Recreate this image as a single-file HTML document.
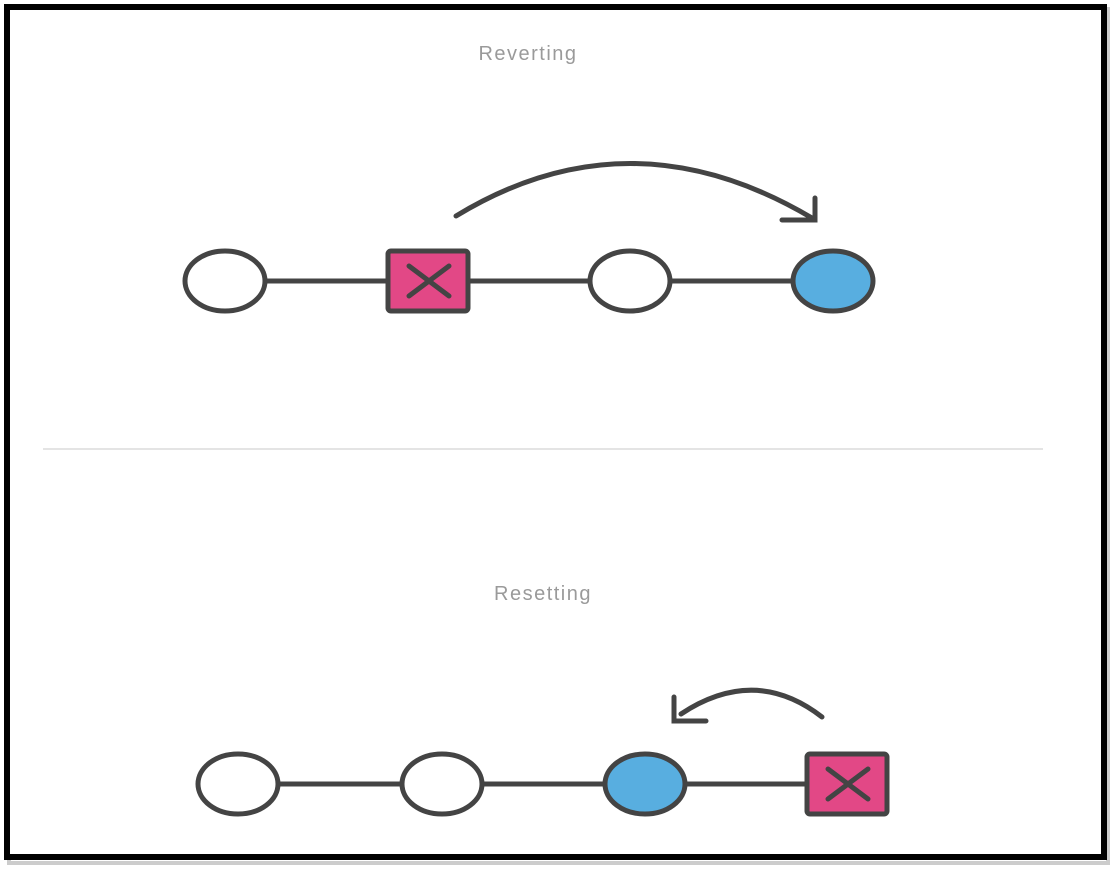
<!DOCTYPE html>
<html><head><meta charset="utf-8"><style>
html,body{margin:0;padding:0;background:#fff;width:1118px;height:872px;overflow:hidden}
</style></head><body>
<svg width="1118" height="872" viewBox="0 0 1118 872" xmlns="http://www.w3.org/2000/svg">
<rect x="9" y="9" width="1099" height="854" fill="none" stroke="#ccc" stroke-width="4"/>
<rect x="7" y="7" width="1097" height="850" fill="#fff" stroke="#000" stroke-width="6"/>
<text x="528" y="60" text-anchor="middle" font-family="Liberation Sans, sans-serif" font-size="20" letter-spacing="1.5" fill="#9a9a9a">Reverting</text>
<text x="543" y="600" text-anchor="middle" font-family="Liberation Sans, sans-serif" font-size="20" letter-spacing="1.5" fill="#9a9a9a">Resetting</text>
<line x1="43" y1="449" x2="1043" y2="449" stroke="#e4e4e4" stroke-width="2"/>
<g stroke="#444" stroke-width="5" fill="none" stroke-linecap="round">
<line x1="265" y1="281" x2="792" y2="281"/>
<path d="M456,216 Q630,110 812,218"/>
<path d="M815,198 L815,220 L782,220" stroke-linejoin="miter"/>
<line x1="278" y1="784" x2="806" y2="784"/>
<path d="M822,717 Q755,665 681,714"/>
<path d="M674,697 L674,721 L706,721"/>
</g>
<g stroke="#444" stroke-width="5">
<ellipse cx="225" cy="281" rx="40" ry="30" fill="#fff"/>
<rect x="388" y="251" width="80" height="60" rx="3" fill="#e24886"/>
<ellipse cx="630" cy="281" rx="40" ry="30" fill="#fff"/>
<ellipse cx="833" cy="281" rx="40" ry="30" fill="#58aee0"/>
<ellipse cx="238" cy="784" rx="40" ry="30" fill="#fff"/>
<ellipse cx="442" cy="784" rx="40" ry="30" fill="#fff"/>
<ellipse cx="645" cy="784" rx="40" ry="30" fill="#58aee0"/>
<rect x="807" y="754" width="80" height="60" rx="3" fill="#e24886"/>
</g>
<g stroke="#444" stroke-width="5" stroke-linecap="round">
<line x1="409" y1="266" x2="449" y2="296"/><line x1="449" y1="266" x2="409" y2="296"/>
<line x1="828" y1="769" x2="868" y2="799"/><line x1="868" y1="769" x2="828" y2="799"/>
</g>
</svg>
</body></html>
